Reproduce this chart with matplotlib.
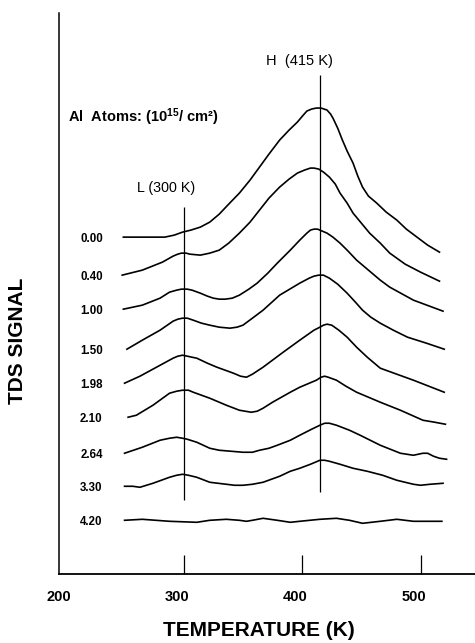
import numpy as np
import matplotlib
matplotlib.use('Agg')
import matplotlib.pyplot as plt
from matplotlib.transforms import ScaledTranslation

plt.rcParams['font.family'] = ['Liberation Sans', 'DejaVu Sans']
plt.rcParams['mathtext.fontset'] = 'custom'
plt.rcParams['mathtext.rm'] = 'Liberation Sans'
plt.rcParams['mathtext.default'] = 'regular'

# Al coverage (10^15 / cm2) for each TDS trace, top to bottom
coverage = ['0.00', '0.40', '1.00', '1.50', '1.98', '2.10', '2.64', '3.30', '4.20']

# temperature (K) and signal (arb. units, offset traces)
t_000 = [249, 284, 292, 299, 306, 314, 322, 330, 338, 347, 356, 364, 372, 381, 389, 396, 401, 404, 408,
         412, 416, 421, 424, 426, 430, 434, 438, 443, 447, 451, 456, 463, 471, 480, 488, 497, 506, 516]
s_000 = [337, 337, 339, 342, 344, 347, 352, 360, 370, 381, 394, 407, 420, 434, 444, 452, 459, 463, 465,
         466, 466, 464, 460, 456, 446, 434, 423, 411, 398, 387, 378, 371, 362, 354, 345, 337, 329, 322]

t_040 = [248, 265, 282, 291, 295, 298, 302, 305, 314, 322, 330, 338, 347, 356, 364, 372, 381, 389, 396,
         402, 407, 410, 414, 418, 423, 428, 432, 438, 443, 450, 457, 466, 474, 487, 500, 516]
s_040 = [299, 304, 312, 318, 320, 321, 321, 320, 319, 321, 324, 331, 341, 352, 364, 376, 387, 395, 401,
         404, 406, 406, 405, 402, 397, 390, 381, 371, 361, 351, 341, 331, 321, 310, 302, 293]

t_100 = [249, 265, 280, 288, 294, 298, 303, 307, 314, 320, 325, 330, 335, 341, 347, 355, 362, 371, 379,
         390, 398, 404, 407, 410, 413, 417, 421, 426, 432, 438, 446, 457, 466, 474, 494, 519]
s_100 = [265, 269, 276, 282, 284, 285, 285, 284, 281, 278, 276, 275, 275, 276, 279, 285, 291, 301, 311,
         324, 334, 341, 344, 345, 345, 343, 341, 337, 331, 324, 314, 303, 294, 287, 274, 263]

t_150 = [252, 265, 280, 291, 295, 299, 303, 308, 315, 322, 330, 339, 345, 350, 358, 367, 381, 398, 406,
         410, 414, 418, 423, 430, 438, 445, 451, 458, 466, 477, 489, 505, 520]
s_150 = [225, 234, 244, 253, 255, 256, 256, 254, 251, 249, 247, 246, 247, 249, 256, 264, 279, 291, 296,
         298, 299, 299, 296, 290, 281, 272, 264, 257, 251, 244, 237, 231, 225]

t_198 = [250, 263, 277, 291, 295, 299, 303, 311, 320, 328, 342, 348, 353, 358, 367, 384, 398, 410, 415,
         418, 421, 425, 431, 438, 446, 455, 466, 480, 494, 507, 520]
s_198 = [191, 198, 207, 216, 218, 219, 218, 216, 211, 207, 201, 198, 197, 200, 207, 222, 234, 244, 247,
         249, 250, 249, 244, 237, 227, 217, 206, 200, 194, 188, 182]

t_210 = [253, 260, 274, 288, 294, 299, 304, 308, 322, 336, 347, 352, 357, 362, 367, 375, 390, 398, 412,
         416, 419, 422, 429, 437, 446, 456, 466, 483, 502, 512, 521]
s_210 = [157, 159, 169, 181, 183, 184, 184, 182, 176, 169, 164, 163, 162, 163, 166, 172, 182, 187, 194,
         197, 198, 197, 194, 188, 182, 177, 172, 164, 154, 152, 150]

t_264 = [250, 265, 280, 288, 294, 299, 303, 311, 322, 330, 340, 350, 358, 364, 372, 379, 390, 398, 408,
         415, 419, 423, 429, 440, 449, 466, 483, 494, 502, 506, 511, 516, 522]
s_264 = [121, 127, 134, 136, 137, 136, 135, 132, 126, 124, 123, 122, 122, 124, 126, 129, 134, 139, 145,
         149, 151, 151, 149, 144, 139, 129, 121, 119, 121, 121, 118, 116, 115]

t_330 = [250, 257, 263, 274, 288, 294, 299, 304, 311, 322, 336, 343, 350, 358, 367, 381, 390, 398, 407,
         415, 419, 423, 432, 443, 455, 468, 480, 494, 500, 508, 519]
s_330 = [88, 88, 87, 91, 97, 99, 100, 99, 97, 92, 90, 89, 89, 90, 92, 98, 103, 106, 110,
         114, 114, 113, 110, 106, 103, 99, 94, 90, 89, 90, 91]

t_420 = [250, 265, 288, 311, 322, 336, 347, 353, 358, 367, 379, 390, 398, 415, 429, 440, 451, 466, 480, 494, 518]
s_420 = [54, 55, 53, 52, 54, 55, 54, 53, 54, 56, 54, 52, 53, 55, 56, 54, 51, 53, 55, 53, 53]

temps = [t_000, t_040, t_100, t_150, t_198, t_210, t_264, t_330, t_420]
signals = [s_000, s_040, s_100, s_150, s_198, s_210, s_264, s_330, s_420]

# desorption states
peak_names = ['L (300 K)', 'H  (415 K)']
peak_temps = [300, 415]

fig = plt.figure(figsize=(4.75, 6.43), dpi=100)
ax = fig.add_axes([0.1236, 0.1068, 0.8764, 0.873])
ax.set_xlim(194.4, 546)
ax.set_ylim(0, 561)

for cov, t, s in zip(coverage, temps, signals):
    ax.plot(t, s, color='black', lw=1.2, solid_joinstyle='round')
    ax.text(222, s[0] - 2, cov, ha='center', va='center', fontsize=8.3,
            fontweight='bold')

# marker lines for the two states
ax.vlines(peak_temps[0], 74, 367, color='black', lw=0.9)
ax.vlines(peak_temps[1], 82, 499, color='black', lw=0.9)
ax.text(peak_temps[0] - 15, 386, peak_names[0], ha='center', va='center', fontsize=10.3)
ax.text(peak_temps[1] - 17, 513, peak_names[1], ha='center', va='center', fontsize=10.5)

ax.text(202, 457, 'Al  Atoms: (10$^{15}$/ cm²)', ha='left', va='center',
        fontsize=10.5, fontweight='bold')

# axes styling
for side in ['top', 'right']:
    ax.spines[side].set_visible(False)
ax.spines['left'].set_linewidth(1.1)
ax.spines['bottom'].set_linewidth(1.3)
ax.set_yticks([])
ax.set_xticks([200, 300, 400, 500])
ax.set_xticklabels(['200', '300', '400', '500'], fontsize=10.5, fontweight='bold')
ax.tick_params(axis='x', direction='in', length=14, width=0.9, pad=11)
ax.xaxis.get_major_ticks()[0].tick1line.set_visible(False)
shift = ScaledTranslation(-7 / 100, 0, fig.dpi_scale_trans)
for lab in ax.get_xticklabels():
    lab.set_transform(lab.get_transform() + shift)

fig.text(259 / 475, 1 - 631 / 643, 'TEMPERATURE (K)', ha='center', va='center',
         fontsize=15, fontweight='bold')
fig.text(17.5 / 475, 1 - 341 / 643, 'TDS SIGNAL', rotation=90, ha='center',
         va='center', fontsize=15, fontweight='bold')

fig.savefig('out.png', dpi=100)
